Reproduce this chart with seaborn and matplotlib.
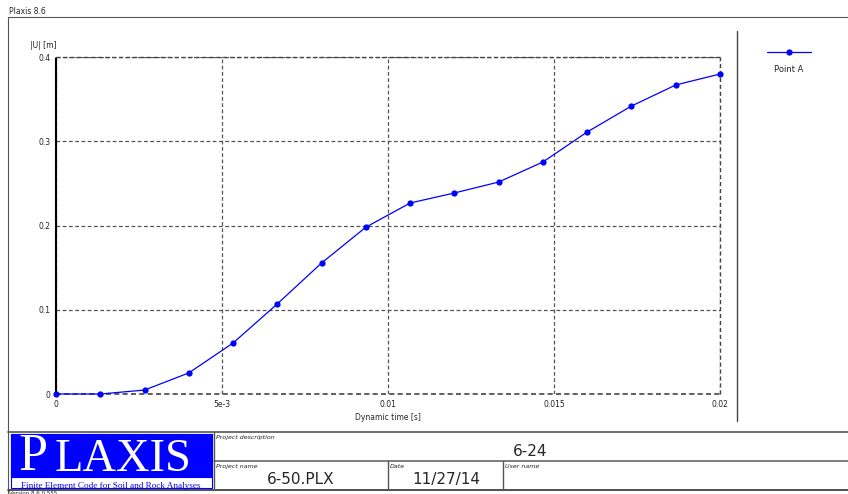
import numpy as np
import pandas as pd
import matplotlib
matplotlib.use("Agg")
import matplotlib.pyplot as plt
import seaborn as sns
from matplotlib.lines import Line2D
from matplotlib.patches import Rectangle

# ---- data ----
time_s = [0.0, 0.001333, 0.002667, 0.004, 0.005333, 0.006667, 0.008, 0.009333,
          0.010667, 0.012, 0.013333, 0.014667, 0.016, 0.017333, 0.018667, 0.02]
disp_m = [0.0, 0.0, 0.0047, 0.025, 0.0605, 0.107, 0.1555, 0.198,
          0.2267, 0.2386, 0.2516, 0.2754, 0.311, 0.3418, 0.3668, 0.3798]
series_name = "Point A"
x_ticks = [0, 0.005, 0.01, 0.015, 0.02]
x_ticklabels = ["0", "5e-3", "0.01", "0.015", "0.02"]
y_ticks = [0, 0.1, 0.2, 0.3, 0.4]
y_ticklabels = ["0", "0.1", "0.2", "0.3", "0.4"]

df = pd.DataFrame({"t": time_s, "u": disp_m, "s": series_name})

sns.set_style("white")
plt.rcParams["font.family"] = ["DejaVu Sans"]

W, H = 848, 494
fig = plt.figure(figsize=(W / 100, H / 100), dpi=100)

def fx(px):
    return px / W

def fy(py):
    return 1 - py / H

ax = fig.add_axes([fx(56), fy(394), fx(720) - fx(56), fy(57) - fy(394)])
ax.grid(True, linestyle=(0, (3, 2)), color="#555555", linewidth=0.9)
ax.axhline(0, color="#444444", linestyle=(0, (3, 2)), linewidth=1.2, zorder=1,
           clip_on=False)
ax.axhline(0.4, color="#444444", linestyle=(0, (3, 2)), linewidth=1.0, zorder=1,
           clip_on=False)
ax.axvline(0.02, color="#444444", linestyle=(0, (3, 2)), linewidth=1.0, zorder=1,
           clip_on=False)
sns.lineplot(data=df, x="t", y="u", ax=ax, color="#0000ff", marker="o",
             markersize=4.5, markeredgewidth=0, linewidth=0.9, legend=False,
             zorder=3, clip_on=False)
ax.set_xlim(0, 0.02)
ax.set_ylim(0, 0.4)
ax.set_xticks(x_ticks)
ax.set_xticklabels(x_ticklabels)
ax.set_yticks(y_ticks)
ax.set_yticklabels(y_ticklabels)
ax.tick_params(labelsize=5.5, length=2, pad=2, colors="#222222")
ax.set_xlabel("Dynamic time [s]", fontsize=5.5, labelpad=3)
ax.set_ylabel("")
for s in ["top", "right", "bottom"]:
    ax.spines[s].set_visible(False)
ax.spines["left"].set_linestyle((0, (2, 1)))
ax.spines["left"].set_color("black")
ax.spines["left"].set_linewidth(1.5)
ax.set_axisbelow(True)
ax.text(0, 1.02, "|U| [m]", transform=ax.transAxes, fontsize=5.5, ha="right",
        va="bottom", color="#222222")

# ---- frame lines ----
def hline(x0, x1, y, lw=1.0, c="#333333"):
    fig.add_artist(Line2D([fx(x0), fx(x1)], [fy(y), fy(y)], color=c, lw=lw))

def vline(x, y0, y1, lw=1.0, c="#333333"):
    fig.add_artist(Line2D([fx(x), fx(x)], [fy(y0), fy(y1)], color=c, lw=lw))

hline(8, 848, 17, 0.8, "#555555")
vline(8, 17, 494, 0.8, "#555555")
vline(737, 31, 421, 1.0, "#444444")
hline(8, 848, 432, 1.2, "#555555")
hline(214, 848, 461, 1.2, "#666666")
hline(8, 848, 490, 1.2, "#333333")
vline(214, 432, 490, 1.0, "#555555")
vline(388, 461, 490, 1.0, "#555555")
vline(503, 461, 490, 1.0, "#555555")

fig.text(fx(9), fy(12), "Plaxis 8.6", fontsize=5.5, va="center", ha="left")
fig.text(fx(9), fy(493), "Version 8.6.0.555", fontsize=4, va="center", ha="left")

# ---- legend ----
fig.add_artist(Line2D([fx(767), fx(811)], [fy(52), fy(52)], color="#0000ff",
                      lw=0.9))
fig.add_artist(Line2D([fx(789)], [fy(52)], color="#0000ff", marker="o",
                      markersize=4.5, markeredgewidth=0, lw=0))
fig.text(fx(789), fy(69), series_name, fontsize=6, ha="center", va="center")

# ---- logo ----
fig.add_artist(Rectangle((fx(11), fy(488)), fx(212) - fx(11), fy(434) - fy(488),
                         facecolor="white", edgecolor="#0000ff", lw=0.8,
                         transform=fig.transFigure))
fig.add_artist(Rectangle((fx(11), fy(477)), fx(212) - fx(11), fy(434) - fy(477),
                         facecolor="#0000ff", edgecolor="#0000ff", lw=0.8,
                         transform=fig.transFigure))
fig.text(fx(18), fy(470), "P", fontsize=37.5, color="white",
         family="Liberation Serif", ha="left", va="baseline")
fig.text(fx(55), fy(471), "LAXIS", fontsize=33.5, color="white",
         family="Liberation Serif", ha="left", va="baseline")
fig.text(fx(111), fy(487.5), "Finite Element Code for Soil and Rock Analyses",
         fontsize=6.6, color="#0000ff", family="Liberation Serif",
         ha="center", va="baseline")

# ---- title block texts ----
fig.text(fx(216), fy(437), "Project description", fontsize=4.5, style="italic",
         ha="left", va="center")
fig.text(fx(530), fy(451), "6-24", fontsize=11, ha="center", va="center")
fig.text(fx(216), fy(466), "Project name", fontsize=4.5, style="italic",
         ha="left", va="center")
fig.text(fx(301), fy(479), "6-50.PLX", fontsize=11, ha="center", va="center")
fig.text(fx(390), fy(466), "Date", fontsize=4.5, style="italic",
         ha="left", va="center")
fig.text(fx(446), fy(479), "11/27/14", fontsize=11, ha="center", va="center")
fig.text(fx(505), fy(466), "User name", fontsize=4.5, style="italic",
         ha="left", va="center")

fig.savefig("out.png", dpi=100)
